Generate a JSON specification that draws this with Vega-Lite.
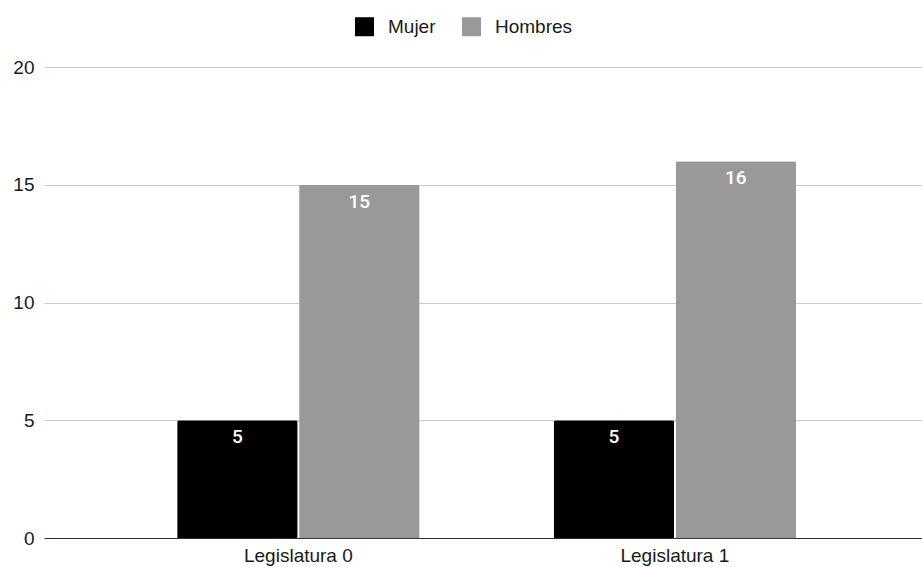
{
  "$schema": "https://vega.github.io/schema/vega-lite/v6.json",
  "width": 878,
  "height": 471,
  "autosize": "none",
  "padding": {"left": 44, "top": 67, "right": 0, "bottom": 29},
  "background": "white",
  "data": {
    "values": [
      {"legislatura": "Legislatura 0", "genero": "Mujer", "valor": 5},
      {"legislatura": "Legislatura 0", "genero": "Hombres", "valor": 15},
      {"legislatura": "Legislatura 1", "genero": "Mujer", "valor": 5},
      {"legislatura": "Legislatura 1", "genero": "Hombres", "valor": 16}
    ]
  },
  "encoding": {
    "x": {
      "field": "legislatura",
      "type": "nominal",
      "sort": ["Legislatura 0", "Legislatura 1"],
      "scale": {"paddingInner": 0.356, "paddingOuter": 0.344, "align": 0.514},
      "axis": {
        "title": null,
        "labelAngle": 0,
        "ticks": false,
        "grid": false,
        "domain": true,
        "domainColor": "#333333",
        "domainWidth": 1,
        "labelFont": "Liberation Sans",
        "labelFontSize": 19,
        "labelColor": "#1a1a1a",
        "labelPadding": 8
      }
    },
    "xOffset": {
      "field": "genero",
      "type": "nominal",
      "sort": ["Mujer", "Hombres"],
      "scale": {"paddingInner": 0.012, "paddingOuter": 0}
    },
    "y": {
      "field": "valor",
      "type": "quantitative",
      "scale": {"domain": [0, 20], "nice": false},
      "axis": {
        "title": null,
        "values": [0, 5, 10, 15, 20],
        "ticks": false,
        "domain": false,
        "grid": true,
        "gridColor": "#cccccc",
        "gridWidth": 1,
        "labelFont": "Liberation Sans",
        "labelFontSize": 19,
        "labelColor": "#1a1a1a",
        "labelPadding": 10
      }
    }
  },
  "layer": [
    {
      "mark": {"type": "bar", "cornerRadiusTopLeft": 2, "cornerRadiusTopRight": 2},
      "encoding": {
        "color": {
          "field": "genero",
          "type": "nominal",
          "sort": ["Mujer", "Hombres"],
          "scale": {"domain": ["Mujer", "Hombres"], "range": ["#000000", "#999999"]},
          "legend": {
            "title": null,
            "orient": "none",
            "direction": "horizontal",
            "legendX": 311,
            "legendY": -50,
            "symbolType": "square",
            "symbolSize": 361,
            "symbolStrokeWidth": 0,
            "symbolOpacity": 1,
            "labelFont": "Liberation Sans",
            "labelFontSize": 19,
            "labelColor": "#1a1a1a",
            "labelOffset": 14,
            "columnPadding": 26,
            "padding": 0
          }
        }
      }
    },
    {
      "mark": {
        "type": "text",
        "baseline": "middle",
        "dy": 17,
        "font": "Roboto",
        "fontSize": 19,
        "fontWeight": 500,
        "color": "white"
      },
      "encoding": {
        "text": {"field": "valor", "type": "quantitative"}
      }
    }
  ],
  "config": {"view": {"stroke": null}}
}
